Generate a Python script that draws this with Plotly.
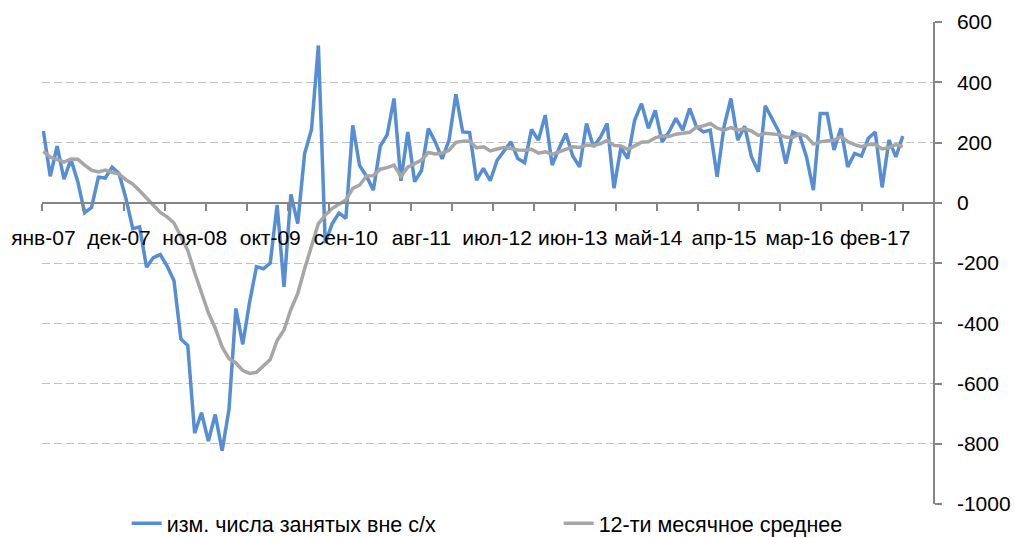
import plotly.graph_objects as go

month_names = ["янв", "фев", "мар", "апр", "май", "июн", "июл", "авг", "сен", "окт", "ноя", "дек"]
years = ["07", "08", "09", "10", "11", "12", "13", "14", "15", "16", "17"]

# monthly change in nonfarm payrolls, Jan-2007 .. Jun-2017 (thousands)
nfp = [
    238, 88, 188, 78, 144, 71, -33, -16, 85, 82, 118, 97,
    15, -86, -80, -214, -182, -172, -210, -259, -452, -474, -765, -697,
    -791, -703, -823, -686, -351, -470, -329, -212, -219, -200, -7, -279,
    28, -69, 163, 243, 522, -133, -70, -34, -52, 257, 123, 88,
    42, 188, 225, 346, 73, 235, 70, 107, 246, 202, 146, 207,
    360, 235, 233, 75, 114, 73, 141, 172, 202, 147, 133, 243,
    208, 291, 125, 180, 230, 155, 119, 263, 186, 216, 263, 48,
    183, 147, 274, 329, 247, 307, 202, 235, 280, 241, 313, 252,
    235, 241, 86, 252, 346, 208, 254, 152, 103, 322, 280, 235,
    130, 235, 224, 152, 42, 296, 296, 175, 247, 119, 164, 155,
    214, 235, 51, 208, 152, 221,
]

# 12-month average
ma12 = [
    170.5, 151.6, 143.9, 135.3, 145.3, 144.8, 124.8, 108.2, 102.2, 108.8, 101.2, 95.0,
    76.4, 61.9, 39.6, 15.3, -11.9, -32.2, -46.9, -67.2, -111.9, -158.3, -231.8, -298.0,
    -365.2, -416.6, -478.5, -517.8, -531.9, -556.8, -566.7, -562.8, -543.3, -520.5, -457.3, -422.5,
    -354.3, -301.4, -219.3, -141.8, -69.1, -41.0, -19.4, -4.6, 9.3, 47.4, 58.3, 88.8,
    90.0, 111.4, 116.6, 125.2, 87.8, 118.4, 130.1, 141.8, 166.7, 162.1, 164.0, 173.9,
    200.4, 204.3, 205.0, 182.4, 185.8, 172.3, 178.3, 183.7, 180.0, 175.4, 174.3, 177.3,
    164.7, 169.3, 160.3, 169.1, 178.8, 185.6, 183.8, 191.3, 190.0, 195.8, 206.6, 190.3,
    188.3, 176.3, 188.7, 201.1, 202.5, 215.2, 222.1, 219.8, 227.6, 229.7, 233.8, 250.8,
    255.2, 263.0, 247.3, 240.9, 249.2, 240.9, 245.3, 238.3, 223.6, 230.3, 227.6, 226.2,
    217.4, 216.9, 228.4, 220.1, 194.8, 202.1, 205.6, 207.5, 219.5, 202.6, 192.9, 186.3,
    193.3, 193.3, 178.8, 183.5, 192.7, 186.4,
]

categories = [f"{m}-{y}" for y in years for m in month_names][: len(nfp)]
label_step = 11
y_ticks = [-1000, -800, -600, -400, -200, 0, 200, 400, 600]
y_tick_text = [str(v) for v in y_ticks]  # plain hyphen-minus as in the original

x = list(range(len(nfp)))
label_pos = list(range(0, len(nfp), label_step))
label_text = [categories[i] for i in label_pos]

x0, x1 = -0.2, 129.4
tick_step = 5.963
minor_ticks = [x0 + k * tick_step for k in range(22)]

FONT = "Liberation Sans, Arial, sans-serif"
AXIS_C = "#868686"
GRID_C = "#BFBFBF"

fig = go.Figure()
fig.add_trace(go.Scatter(
    x=x, y=nfp, mode="lines", name="изм. числа занятых вне с/х",
    line=dict(color="#558ED5", width=3.5),
))
fig.add_trace(go.Scatter(
    x=x, y=ma12, mode="lines", name="12-ти месячное среднее",
    line=dict(color="#A6A6A6", width=3.5),
))

fig.update_layout(
    width=1015, height=537,
    margin=dict(l=42, r=82, t=22, b=33, autoexpand=False),
    paper_bgcolor="white", plot_bgcolor="white",
    font=dict(family=FONT, size=21, color="black"),
    showlegend=True,
    legend=dict(
        orientation="h", x=0.095, xanchor="left", y=-0.04, yanchor="middle",
        entrywidth=387, entrywidthmode="pixels",
        font=dict(family=FONT, size=21.5, color="black"),
        bgcolor="rgba(0,0,0,0)",
    ),
    xaxis=dict(
        range=[x0, x1],
        tickmode="array", tickvals=label_pos, ticktext=label_text,
        ticks="", showline=True, linecolor=AXIS_C, linewidth=1.5,
        anchor="free", position=0.625,
        showgrid=False, zeroline=False,
        tickfont=dict(family=FONT, size=21, color="black"),
        ticklabelstandoff=16,
        minor=dict(tickmode="array", tickvals=minor_ticks, ticks="outside",
                   ticklen=7, tickwidth=1.5, tickcolor=AXIS_C, showgrid=False),
    ),
    yaxis=dict(
        range=[-1000, 600], side="right",
        tickmode="array", tickvals=y_ticks, ticktext=y_tick_text,
        ticks="outside", ticklen=7, tickwidth=1.5, tickcolor=AXIS_C,
        showline=True, linecolor=AXIS_C, linewidth=1.5,
        showgrid=True, gridcolor=GRID_C, gridwidth=1.3, griddash="8px,4px",
        zeroline=False,
        tickfont=dict(family=FONT, size=21, color="black"),
        ticklabelstandoff=11,
    ),
)

fig.write_html("out.html", config={"displayModeBar": False},
               post_script="document.body.style.margin='0px';")
